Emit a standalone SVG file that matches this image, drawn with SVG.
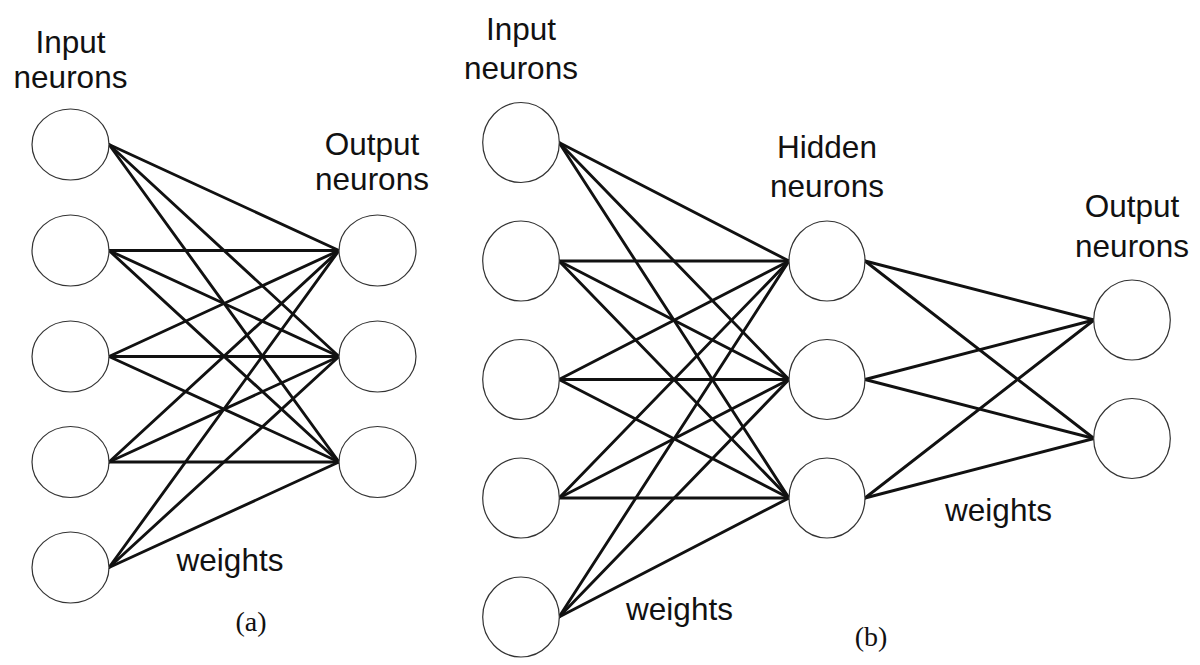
<svg xmlns="http://www.w3.org/2000/svg" width="1200" height="665" viewBox="0 0 1200 665">
<style>
.n{fill:#fff;stroke:#333;stroke-width:1.2}
.e line{stroke:#111;stroke-width:2.9;stroke-linecap:round}
.t{font-family:"Liberation Sans",Arial,sans-serif;font-size:31.5px;fill:#111;text-anchor:middle}
.c{font-family:"Liberation Serif","Times New Roman",serif;font-size:28px;fill:#111;text-anchor:middle}
</style>
<rect width="1200" height="665" fill="#fff"/>
<g id="connectors-a" class="e">
<line x1="109" y1="144.5" x2="339" y2="250.5"/><line x1="109" y1="144.5" x2="339" y2="356.5"/><line x1="109" y1="144.5" x2="339" y2="462"/>
<line x1="109" y1="250.5" x2="339" y2="250.5"/><line x1="109" y1="250.5" x2="339" y2="356.5"/><line x1="109" y1="250.5" x2="339" y2="462"/>
<line x1="109" y1="356.5" x2="339" y2="250.5"/><line x1="109" y1="356.5" x2="339" y2="356.5"/><line x1="109" y1="356.5" x2="339" y2="462"/>
<line x1="109" y1="462" x2="339" y2="250.5"/><line x1="109" y1="462" x2="339" y2="356.5"/><line x1="109" y1="462" x2="339" y2="462"/>
<line x1="109" y1="567.5" x2="339" y2="250.5"/><line x1="109" y1="567.5" x2="339" y2="356.5"/><line x1="109" y1="567.5" x2="339" y2="462"/>
</g>
<g id="connectors-b" class="e">
<line x1="559" y1="142.5" x2="789" y2="261"/><line x1="559" y1="142.5" x2="789" y2="379.5"/><line x1="559" y1="142.5" x2="789" y2="498"/>
<line x1="559" y1="261" x2="789" y2="261"/><line x1="559" y1="261" x2="789" y2="379.5"/><line x1="559" y1="261" x2="789" y2="498"/>
<line x1="559" y1="379.5" x2="789" y2="261"/><line x1="559" y1="379.5" x2="789" y2="379.5"/><line x1="559" y1="379.5" x2="789" y2="498"/>
<line x1="559" y1="498" x2="789" y2="261"/><line x1="559" y1="498" x2="789" y2="379.5"/><line x1="559" y1="498" x2="789" y2="498"/>
<line x1="559" y1="617" x2="789" y2="261"/><line x1="559" y1="617" x2="789" y2="379.5"/><line x1="559" y1="617" x2="789" y2="498"/>
<line x1="865" y1="261" x2="1094" y2="320"/><line x1="865" y1="261" x2="1094" y2="438.5"/>
<line x1="865" y1="379.5" x2="1094" y2="320"/><line x1="865" y1="379.5" x2="1094" y2="438.5"/>
<line x1="865" y1="498" x2="1094" y2="320"/><line x1="865" y1="498" x2="1094" y2="438.5"/>
</g>
<g id="a-in1"><ellipse class="n" cx="70.5" cy="144.5" rx="38.5" ry="35.5"/></g>
<g id="a-in2"><ellipse class="n" cx="70.5" cy="250.5" rx="38.5" ry="35.5"/></g>
<g id="a-in3"><ellipse class="n" cx="70.5" cy="356.5" rx="38.5" ry="35.5"/></g>
<g id="a-in4"><ellipse class="n" cx="70.5" cy="462" rx="38.5" ry="35.5"/></g>
<g id="a-in5"><ellipse class="n" cx="70.5" cy="567.5" rx="38.5" ry="35.5"/></g>
<g id="a-out1"><ellipse class="n" cx="377.5" cy="250.5" rx="38.5" ry="35.5"/></g>
<g id="a-out2"><ellipse class="n" cx="377.5" cy="356.5" rx="38.5" ry="35.5"/></g>
<g id="a-out3"><ellipse class="n" cx="377.5" cy="462" rx="38.5" ry="35.5"/></g>
<g id="b-in1"><ellipse class="n" cx="521" cy="142.5" rx="38.3" ry="40"/></g>
<g id="b-in2"><ellipse class="n" cx="521" cy="261" rx="38.3" ry="40"/></g>
<g id="b-in3"><ellipse class="n" cx="521" cy="379.5" rx="38.3" ry="40"/></g>
<g id="b-in4"><ellipse class="n" cx="521" cy="498" rx="38.3" ry="40"/></g>
<g id="b-in5"><ellipse class="n" cx="521" cy="617" rx="38.3" ry="40"/></g>
<g id="b-hid1"><ellipse class="n" cx="827" cy="261" rx="38" ry="40"/></g>
<g id="b-hid2"><ellipse class="n" cx="827" cy="379.5" rx="38" ry="40"/></g>
<g id="b-hid3"><ellipse class="n" cx="827" cy="498" rx="38" ry="40"/></g>
<g id="b-out1"><ellipse class="n" cx="1132" cy="320" rx="38.3" ry="40"/></g>
<g id="b-out2"><ellipse class="n" cx="1132" cy="438.5" rx="38.3" ry="40"/></g>
<g id="labels">
<text class="t" x="70.5" y="53">Input</text>
<text class="t" x="70.5" y="88">neurons</text>
<text class="t" x="372" y="155">Output</text>
<text class="t" x="372" y="190">neurons</text>
<text class="t" x="230" y="571">weights</text>
<text class="c" x="251" y="631">(a)</text>
<text class="t" x="521" y="40">Input</text>
<text class="t" x="521" y="79">neurons</text>
<text class="t" x="827" y="158">Hidden</text>
<text class="t" x="827" y="197">neurons</text>
<text class="t" x="1132" y="217">Output</text>
<text class="t" x="1132" y="257">neurons</text>
<text class="t" x="679.5" y="620">weights</text>
<text class="t" x="998.5" y="521">weights</text>
<text class="c" x="871" y="646">(b)</text>
</g>
</svg>
